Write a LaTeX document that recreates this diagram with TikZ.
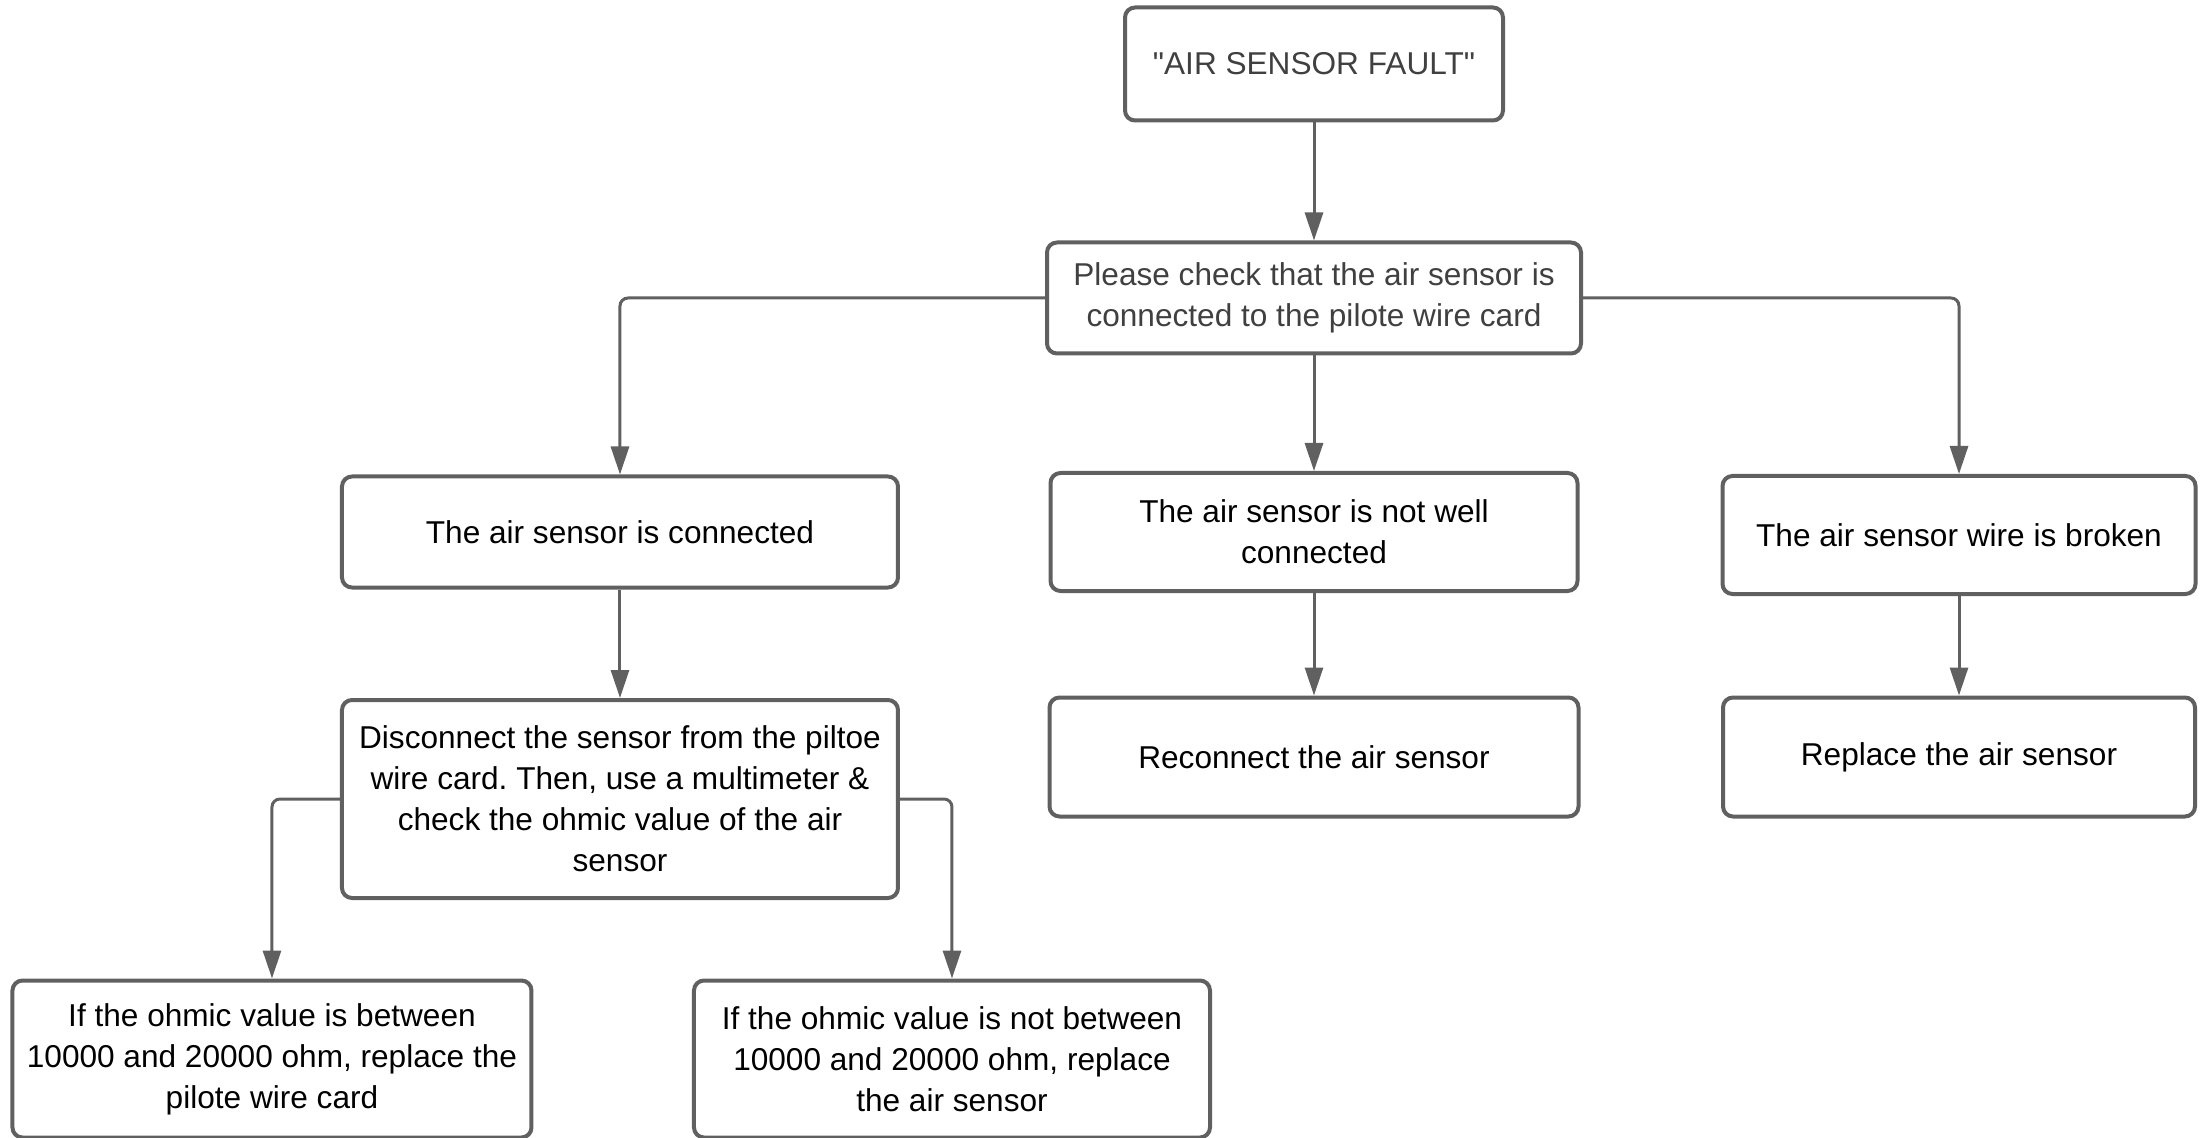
\documentclass[tikz,border=0pt]{standalone}
\usepackage{fontspec}
\setmainfont{Liberation Sans}[Ligatures=TeXOff]
\frenchspacing
\usetikzlibrary{shapes, positioning, arrows.meta}
\definecolor{flowgray}{RGB}{96,96,96}

\begin{document}
\begin{tikzpicture}[node distance={117pt}, line width=1.5pt, flowgray,
    >={Triangle[length=14pt, width=9pt]},
    main/.style = {draw, line width=2pt, rounded corners=5pt, align=center, text=black,
        inner sep=0pt, font=\fontsize{15.8}{20.5}\selectfont},
    link/.style = {->, rounded corners=4pt}]
    \useasboundingbox (-657pt,32pt) rectangle (444.5pt,-537pt);

    \node[main, minimum width=189pt, minimum height=56.5pt, text=black!75] (fault) {"AIR SENSOR FAULT"};
    \node[main, minimum width=267pt, minimum height=55.5pt, text=black!75] (check) [below of=fault] {Please check that the air sensor is\\connected to the pilote wire card};
    \node[main, minimum width=263.5pt, minimum height=59pt] (notwell) [below of=check] {The air sensor is not well\\connected};
    \node[main, minimum width=278pt, minimum height=55.5pt] (conn) [left of=notwell, xshift=-230pt] {The air sensor is connected};
    \node[main, minimum width=236.5pt, minimum height=59pt] (broken) [right of=notwell, xshift=205.5pt, yshift=-1.5pt] {The air sensor wire is broken};

    \node[main, minimum width=264.5pt, minimum height=59.5pt] (recon) [below of=notwell, yshift=4.5pt] {Reconnect the air sensor};
    \node[main, minimum width=236pt, minimum height=59.5pt] (repl) [below of=broken, yshift=6pt] {Replace the air sensor};
    \node[main, minimum width=278pt, minimum height=99pt] (disc) [below of=conn, yshift=-16.5pt] {Disconnect the sensor from the piltoe\\wire card. Then, use a multimeter \&\\check the ohmic value of the air\\sensor};

    \node[main, minimum width=259.5pt, minimum height=78.5pt] (ifin) [below of=disc, xshift=-174pt, yshift=-13pt] {If the ohmic value is between\\10000 and 20000 ohm, replace the\\pilote wire card};
    \node[main, minimum width=258pt, minimum height=78.5pt] (ifnot) [below of=disc, xshift=166pt, yshift=-13pt] {If the ohmic value is not between\\10000 and 20000 ohm, replace\\the air sensor};

    \draw[link] (fault) -- (check);
    \draw[link] (check) -- (notwell);
    \draw[link] (check.west) -| (conn);
    \draw[link] (check.east) -| (broken);
    \draw[link] (conn) -- (disc);
    \draw[link] (notwell) -- (recon);
    \draw[link] (broken) -- (repl);
    \draw[link] (disc.west) -| (ifin);
    \draw[link] (disc.east) -| (ifnot);
\end{tikzpicture}
\end{document}
